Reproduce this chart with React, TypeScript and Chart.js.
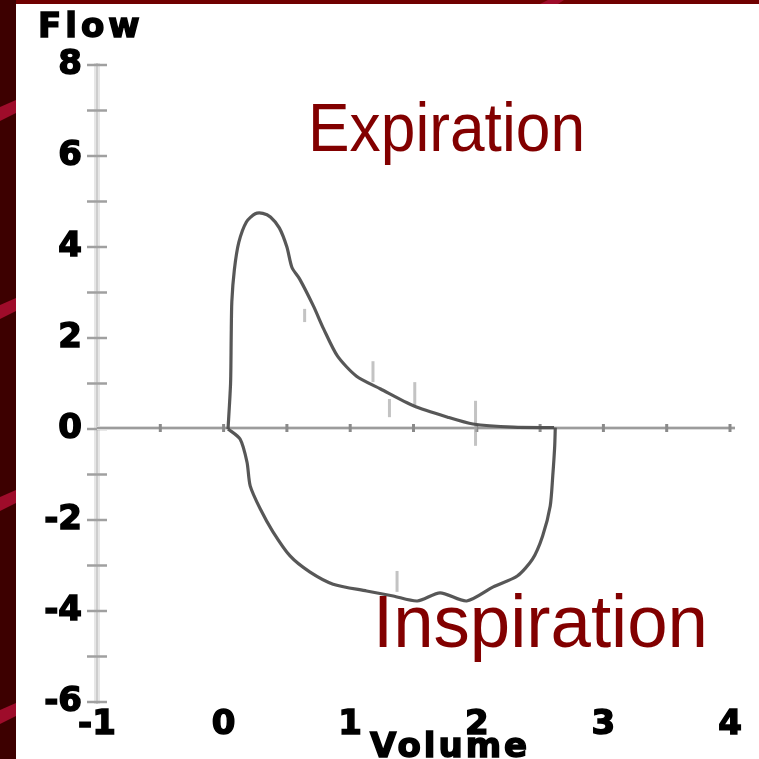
import { useEffect, useRef } from "react";
import { Chart, registerables } from "chart.js";

Chart.register(...registerables);

// Axis ticks
const volumeTicks = [-1, 0, 1, 2, 3, 4];
const flowTicks = [-6, -4, -2, 0, 2, 4, 6, 8];
const flowMinorTicks = [-6, -5, -4, -3, -2, -1, 0, 1, 2, 3, 4, 5, 6, 7, 8];
const volumeMinorTicks = [-0.5, 0, 0.5, 1, 1.5, 2, 2.5, 3, 3.5, 4];

// Expiratory limb of the flow-volume loop (volume in L, flow in L/s)
const expirationVolume = [0.035, 0.055, 0.06, 0.065, 0.085, 0.12, 0.18, 0.25, 0.31, 0.37, 0.44, 0.5, 0.54, 0.6, 0.71, 0.79, 0.9, 1.05, 1.24, 1.5, 1.77, 1.97, 2.29, 2.61];
const expirationFlow = [0.0, 1.0, 2.0, 2.8, 3.5, 4.1, 4.55, 4.73, 4.74, 4.66, 4.42, 4.0, 3.55, 3.3, 2.7, 2.2, 1.6, 1.16, 0.88, 0.51, 0.26, 0.11, 0.04, 0.03];

// Inspiratory limb
const inspirationVolume = [0.035, 0.13, 0.185, 0.21, 0.29, 0.39, 0.525, 0.68, 0.865, 1.13, 1.34, 1.53, 1.71, 1.92, 2.13, 2.32, 2.44, 2.52, 2.58, 2.6, 2.615, 2.62];
const inspirationFlow = [0.0, -0.22, -0.73, -1.25, -1.76, -2.26, -2.79, -3.14, -3.41, -3.56, -3.67, -3.78, -3.6, -3.78, -3.47, -3.23, -2.86, -2.35, -1.69, -1.03, -0.4, 0.03];

// Faint vertical marks along the trace: volume, flow from, flow to
const markVolume = [0.64, 1.18, 1.31, 1.51, 1.99, 1.37];
const markFlowFrom = [2.64, 1.49, 0.66, 1.03, 0.62, -3.12];
const markFlowTo = [2.35, 1.03, 0.26, 0.51, -0.37, -3.58];

// Phase captions, anchored in data units
const phaseText = ["Expiration", "Inspiration"];
const phaseVolume = [0.667, 1.18];
const phaseFlow = [6.11, -4.79];

const yTitle = "Flow";
const xTitle = "Volume";

const tickFont = { family: "'DejaVu Sans'", weight: "bold" as const, size: 34 };

const backdrop = {
  id: "backdrop",
  beforeDraw(chart: Chart) {
    const { ctx, width, height } = chart;
    ctx.save();
    ctx.fillStyle = "#ffffff";
    ctx.fillRect(0, 0, width, height);
    // maroon frame on the left and top
    ctx.fillStyle = "#3d0000";
    ctx.fillRect(0, 0, 16, height);
    ctx.fillStyle = "#700000";
    ctx.fillRect(16, 0, width - 16, 4);
    ctx.fillStyle = "#9e0c2a";
    for (const y0 of [107, 305, 497, 710]) {
      ctx.beginPath();
      ctx.moveTo(0, y0);
      ctx.lineTo(16, y0 - 7);
      ctx.lineTo(16, y0 + 6);
      ctx.lineTo(0, y0 + 14);
      ctx.closePath();
      ctx.fill();
    }
    ctx.beginPath();
    ctx.moveTo(540, 4);
    ctx.lineTo(548, 0);
    ctx.lineTo(564, 0);
    ctx.lineTo(558, 4);
    ctx.closePath();
    ctx.fill();
    ctx.restore();
  },
};

const axesLines = {
  id: "axesLines",
  beforeDatasetsDraw(chart: Chart) {
    const { ctx } = chart;
    const xs = chart.scales.x;
    const ys = chart.scales.y;
    const ax = xs.getPixelForValue(-1);
    const y0 = ys.getPixelForValue(0);
    const line = (x1: number, y1: number, x2: number, y2: number) => {
      ctx.beginPath();
      ctx.moveTo(x1, y1);
      ctx.lineTo(x2, y2);
      ctx.stroke();
    };
    ctx.save();
    // vertical axis
    ctx.strokeStyle = "#e6e6e6";
    ctx.lineWidth = 6;
    line(ax, ys.getPixelForValue(8) - 2, ax, ys.getPixelForValue(-6) + 2);
    ctx.strokeStyle = "#cdcdcd";
    ctx.lineWidth = 2;
    line(ax, ys.getPixelForValue(8) - 2, ax, ys.getPixelForValue(-6) + 2);
    ctx.strokeStyle = "#a0a0a0";
    ctx.lineWidth = 2.5;
    for (const v of flowMinorTicks) {
      const py = ys.getPixelForValue(v);
      line(ax - 10, py, ax + 10, py);
    }
    // horizontal axis through zero flow
    ctx.strokeStyle = "#dcdcdc";
    ctx.lineWidth = 4;
    line(ax, y0 - 1, xs.getPixelForValue(4) + 5, y0 - 1);
    ctx.strokeStyle = "#9c9c9c";
    ctx.lineWidth = 2;
    line(ax, y0 - 1, xs.getPixelForValue(4) + 5, y0 - 1);
    ctx.strokeStyle = "#8a8a8a";
    ctx.lineWidth = 3;
    for (const v of volumeMinorTicks) {
      const px = xs.getPixelForValue(v);
      line(px, y0 - 5, px, y0 + 3);
    }
    // faint marks
    ctx.strokeStyle = "rgba(170,170,170,0.7)";
    ctx.lineWidth = 3;
    markVolume.forEach((v, i) => {
      const px = xs.getPixelForValue(v);
      line(px, ys.getPixelForValue(markFlowFrom[i]), px, ys.getPixelForValue(markFlowTo[i]));
    });
    ctx.restore();
  },
};

const captions = {
  id: "captions",
  afterDatasetsDraw(chart: Chart) {
    const { ctx } = chart;
    const xs = chart.scales.x;
    const ys = chart.scales.y;
    ctx.save();
    ctx.fillStyle = "#820000";
    ctx.textAlign = "left";
    ctx.textBaseline = "alphabetic";
    const sizes = [69, 74];
    const widths = [277, 335];
    phaseText.forEach((t, i) => {
      ctx.font = `${sizes[i]}px 'Liberation Sans', Arial, sans-serif`;
      ctx.fillText(t, xs.getPixelForValue(phaseVolume[i]), ys.getPixelForValue(phaseFlow[i]), widths[i]);
    });
    // axis titles
    ctx.fillStyle = "#000";
    ctx.strokeStyle = "#000";
    ctx.lineWidth = 1.5;
    ctx.font = "bold 34px 'DejaVu Sans'";
    (ctx as any).letterSpacing = "4px";
    ctx.fillText(yTitle, chart.chartArea.left - 59, 37);
    ctx.strokeText(yTitle, chart.chartArea.left - 59, 37);
    (ctx as any).letterSpacing = "3px";
    ctx.fillText(xTitle, chart.chartArea.left + 273, 757);
    ctx.strokeText(xTitle, chart.chartArea.left + 273, 757);
    ctx.restore();
  },
};

export default function App() {
  const ref = useRef<HTMLCanvasElement | null>(null);

  useEffect(() => {
    if (!ref.current) return;
    const toPoints = (xs: number[], ys: number[]) => xs.map((x, i) => ({ x, y: ys[i] }));
    const trace = {
      showLine: true,
      borderColor: "rgba(78,78,78,0.95)",
      borderWidth: 3.2,
      pointRadius: 0,
      tension: 0.25,
      fill: false,
    };
    const tickStyle = {
      color: "#000",
      font: tickFont,
      textStrokeColor: "#000",
      textStrokeWidth: 1.5,
      autoSkip: false,
    };
    const chart = new Chart(ref.current, {
      type: "scatter",
      data: {
        datasets: [
          { label: "Expiration", data: toPoints(expirationVolume, expirationFlow), ...trace },
          { label: "Inspiration", data: toPoints(inspirationVolume, inspirationFlow), ...trace },
        ],
      },
      options: {
        animation: false,
        responsive: false,
        layout: { padding: { top: 65, right: 29, bottom: 0, left: 0 } },
        plugins: { legend: { display: false }, tooltip: { enabled: false } },
        scales: {
          x: {
            type: "linear",
            min: -1,
            max: 4,
            grid: { display: false, drawTicks: false },
            border: { display: false },
            afterBuildTicks: (s: any) => {
              s.ticks = volumeTicks.map((value) => ({ value }));
            },
            afterFit: (s: any) => {
              s.height = 57;
            },
            ticks: { ...tickStyle, padding: 3, maxRotation: 0 },
          },
          y: {
            type: "linear",
            min: -6,
            max: 8,
            grid: { display: false, drawTicks: false },
            border: { display: false },
            afterBuildTicks: (s: any) => {
              s.ticks = flowTicks.map((value) => ({ value }));
            },
            afterFit: (s: any) => {
              s.width = 97;
            },
            ticks: { ...tickStyle, padding: 15 },
          },
        },
      },
      plugins: [backdrop, axesLines, captions],
    });
    return () => chart.destroy();
  }, []);

  return (
    <div style={{ position: "fixed", left: 0, top: 0, width: 759, height: 759 }}>
      <canvas ref={ref} width={759} height={759} style={{ display: "block", width: 759, height: 759 }} />
    </div>
  );
}
